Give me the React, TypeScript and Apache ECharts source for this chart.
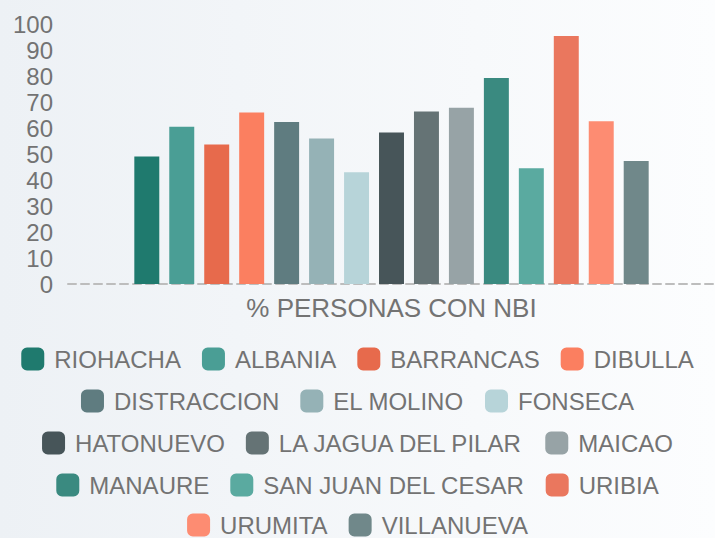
import React, { useEffect, useRef } from "react";
import * as echarts from "echarts";

const category = ["% PERSONAS CON NBI"];
const municipios = [
  "RIOHACHA", "ALBANIA", "BARRANCAS", "DIBULLA", "DISTRACCION", "EL MOLINO", "FONSECA",
  "HATONUEVO", "LA JAGUA DEL PILAR", "MAICAO", "MANAURE", "SAN JUAN DEL CESAR", "URIBIA",
  "URUMITA", "VILLANUEVA",
];
const valores = [49.0, 60.5, 53.7, 66.0, 62.3, 56.0, 43.0, 58.3, 66.3, 67.8, 79.2, 44.5, 95.4, 62.6, 47.3];
const colores = [
  "#1f7a6e", "#4a9e95", "#e76a4c", "#fb7f60", "#5f7c80", "#95b2b6", "#b7d4d9",
  "#475559", "#657375", "#97a3a6", "#3a8a80", "#5aaaa0", "#ea775e", "#fd8c72", "#70888a",
];
const legendRows = [
  ["RIOHACHA", "ALBANIA", "BARRANCAS", "DIBULLA"],
  ["DISTRACCION", "EL MOLINO", "FONSECA"],
  ["HATONUEVO", "LA JAGUA DEL PILAR", "MAICAO"],
  ["MANAURE", "SAN JUAN DEL CESAR", "URIBIA"],
  ["URUMITA", "VILLANUEVA"],
];
const legendTops = [347, 389, 431, 473, 513];
const yTicks = { min: 0, max: 100, interval: 10 };

export default function App() {
  const ref = useRef<HTMLDivElement>(null);
  useEffect(() => {
    if (!ref.current) return;
    const chart = echarts.init(ref.current, null, { renderer: "svg" });
    const font = "Liberation Sans, Arial, sans-serif";
    const textColor = "#737373";
    chart.setOption({
      animation: false,
      backgroundColor: new echarts.graphic.LinearGradient(0, 0, 1, 0, [
        { offset: 0, color: "#edf1f5" },
        { offset: 1, color: "#fcfdfe" },
      ]),
      grid: { left: 68, right: 0, top: 24, bottom: 254, containLabel: false },
      legend: legendRows.map((row, i) => ({
        data: row,
        left: "center",
        top: legendTops[i],
        orient: "horizontal",
        icon: "roundRect",
        itemWidth: 23,
        itemHeight: 23,
        itemGap: 21,
        padding: 0,
        selectedMode: false,
        textStyle: {
          color: textColor,
          fontSize: 24,
          lineHeight: 22,
          fontFamily: font,
          padding: [0, 0, 0, 5],
        },
      })),
      xAxis: {
        type: "category",
        data: category,
        axisLine: { show: true, lineStyle: { color: "#bdbdbd", width: 2, type: [8, 5] } },
        axisTick: { show: false },
        axisLabel: { color: textColor, fontSize: 26, fontFamily: font, margin: 11 },
      },
      yAxis: {
        type: "value",
        min: yTicks.min,
        max: yTicks.max,
        interval: yTicks.interval,
        axisLine: { show: false },
        axisTick: { show: false },
        splitLine: { show: false },
        axisLabel: { color: textColor, fontSize: 24, fontFamily: font, margin: 15 },
      },
      series: municipios.map((name, i) => ({
        name,
        type: "bar",
        data: [valores[i]],
        itemStyle: { color: colores[i] },
        barGap: "40%",
        barCategoryGap: "20.5%",
      })),
    });
    return () => chart.dispose();
  }, []);
  return (
    <div
      ref={ref}
      style={{ position: "fixed", left: 0, top: 0, width: 715, height: 538 }}
    />
  );
}
